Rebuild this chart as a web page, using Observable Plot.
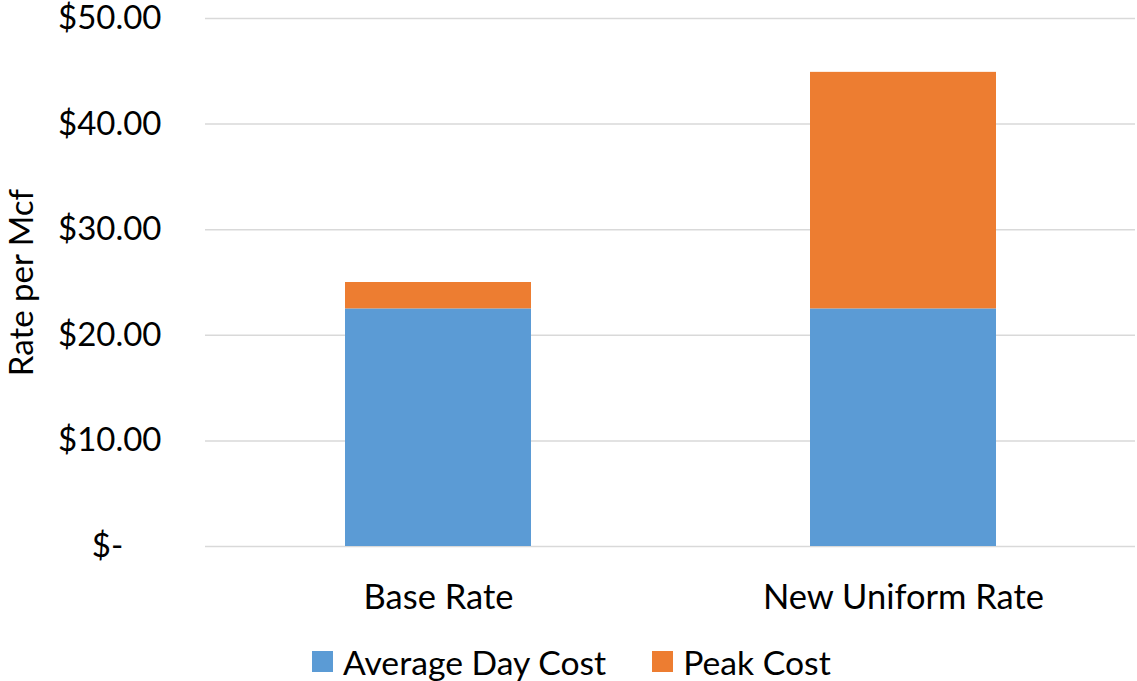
<!DOCTYPE html>
<html>
<head>
<meta charset="utf-8">
<script src="https://cdn.jsdelivr.net/npm/d3@7"></script>
<script src="https://cdn.jsdelivr.net/npm/@observablehq/plot@0.6"></script>
<style>
  body { margin: 0; background: #fff; font-family: Lato, "Open Sans", sans-serif; }
  #wrap { width: 1137px; }
  #wrap svg { overflow: visible; }
  .legend { display: flex; justify-content: flex-start; align-items: center; height: 51px; font-size: 33.7px; color: #000; padding-left: 312px; padding-top: 6px; }
  .legend span.item { display: flex; align-items: center; margin-right: 46px; }
  .legend span.sw { width: 21px; height: 21px; display: inline-block; margin-right: 10px; }
</style>
</head>
<body>
<div id="wrap"></div>
<script>
const categories = ["Base Rate", "New Uniform Rate"];
const series = ["Average Day Cost", "Peak Cost"];
const averageDayCost = [22.5, 22.5];
const peakCost = [2.5, 22.4];
const yTicks = [0, 10, 20, 30, 40, 50];
const colors = ["#5B9BD5", "#ED7D31"];
const yTitle = "Rate per Mcf";

const data = [];
categories.forEach((c, i) => {
  data.push({category: c, series: series[0], value: averageDayCost[i]});
  data.push({category: c, series: series[1], value: peakCost[i]});
});

const fmt = d => d === 0 ? "$-\u2007\u2007" : "$" + d3.format(".2f")(d);

const chart = Plot.plot({
  width: 1137,
  height: 630,
  marginLeft: 205,
  marginRight: 2,
  marginTop: 18,
  marginBottom: 84,
  style: {fontFamily: "Lato, 'Open Sans', sans-serif", fontSize: "33px", color: "#000", background: "#fff", overflow: "visible"},
  x: {domain: categories, paddingInner: 0.6, paddingOuter: 0.3, label: null},
  y: {domain: [0, 50], label: null},
  color: {domain: series, range: colors},
  marks: [
    Plot.gridY(yTicks, {stroke: "#D9D9D9", strokeOpacity: 1, strokeWidth: 1.5}),
    Plot.barY(data, {x: "category", y: "value", fill: "series", order: series}),
    Plot.axisY(yTicks, {tickSize: 0, tickPadding: 44, tickFormat: fmt, fontSize: 33, label: null}),
    Plot.axisX({tickSize: 0, tickPadding: 38, fontSize: 34.5, label: null}),
    Plot.text([yTitle], {frameAnchor: "left", text: d => d, rotate: -90, dx: -183, fontSize: 33, textAnchor: "middle", fill: "#000"})
  ]
});
document.getElementById("wrap").appendChild(chart);

const leg = document.createElement("div");
leg.className = "legend";
series.forEach((s, i) => {
  const it = document.createElement("span");
  it.className = "item";
  it.innerHTML = `<span class="sw" style="background:${colors[i]}"></span>${s}`;
  leg.appendChild(it);
});
document.getElementById("wrap").appendChild(leg);
</script>
</body>
</html>
